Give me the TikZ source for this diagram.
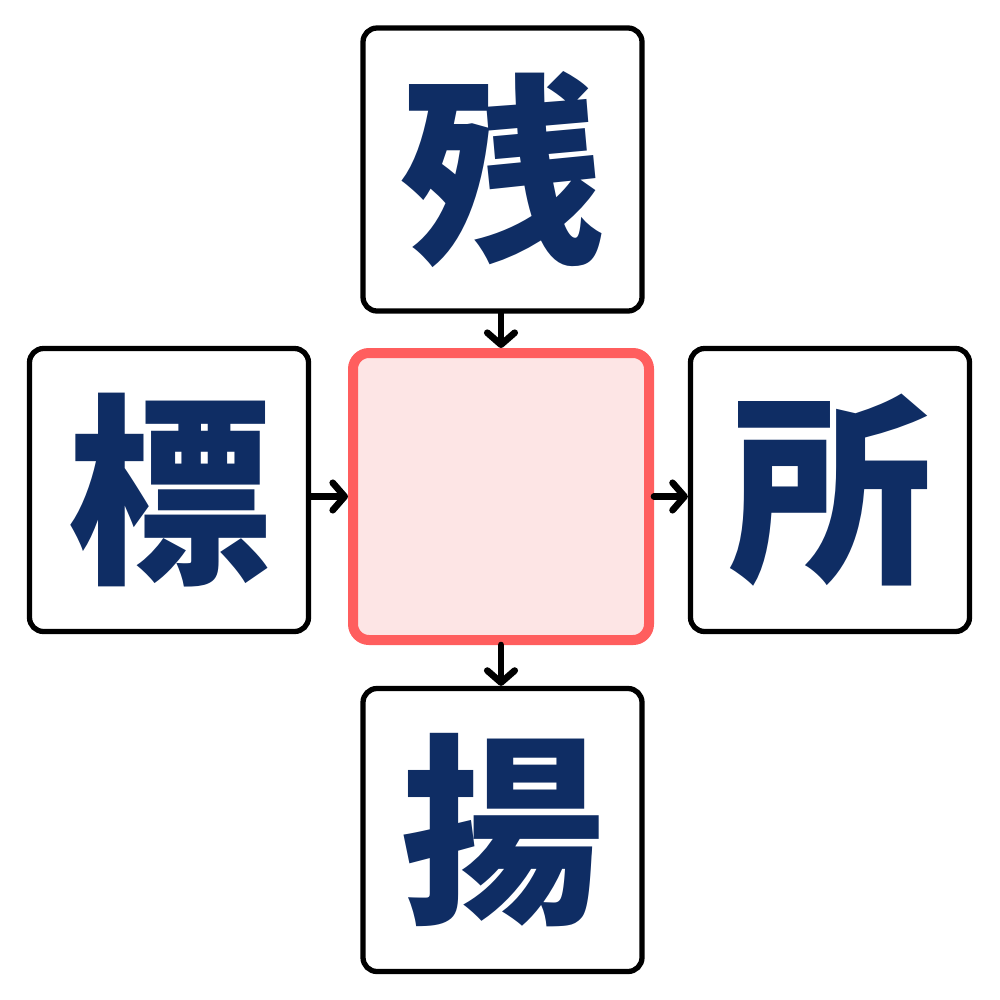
\documentclass[tikz,border=0pt]{standalone}
\usepackage{fontspec}
\usepackage{xcolor}
\usepackage{tikz}
\usetikzlibrary{arrows.meta}
\newfontfamily\cjk{Noto Sans CJK JP}

\definecolor{kanjiblue}{HTML}{0F2D64}
\definecolor{redline}{HTML}{FF5E5E}
\definecolor{pinkfill}{HTML}{FDE5E5}

\tikzset{
	charbox/.style={draw=black, line width=1.5pt, rounded corners=14*0.01cm,
		minimum width=279*0.01cm, minimum height=283*0.01cm, inner sep=0pt,
		font=\cjk\bfseries\fontsize{58}{58}\selectfont, text=kanjiblue},
	holebox/.style={draw=redline, fill=pinkfill, line width=10*0.01cm, rounded corners=16*0.01cm,
		minimum width=296*0.01cm, minimum height=287*0.01cm, inner sep=0pt},
	link/.style={-{Straight Barb[length=3.4pt, width=7.8pt, line cap=round, line join=round]},
		line width=1.9pt, line cap=round, black}
}

\begin{document}
\begin{tikzpicture}[x=0.01cm, y=-0.01cm]
			\useasboundingbox (0, 0) rectangle (1000, 1000);

			\node (hole) at (501, 496.5) [holebox] {};

			\node (zan) at (502.5, 169.5) [charbox] {残};
			\node (hyo) at (169, 490) [charbox] {標};
			\node (sho) at (830, 490) [charbox] {所};
			\node (age) at (502.5, 830) [charbox] {揚};

			\draw [link] (zan.south -| hole.north) -- (hole.north);
			\draw [link] (hyo.east |- hole.west) -- (hole.west);
			\draw [link] (hole.east) -- (sho.west |- hole.east);
			\draw [link] (hole.south) -- (age.north -| hole.south);
		\end{tikzpicture}
\end{document}
